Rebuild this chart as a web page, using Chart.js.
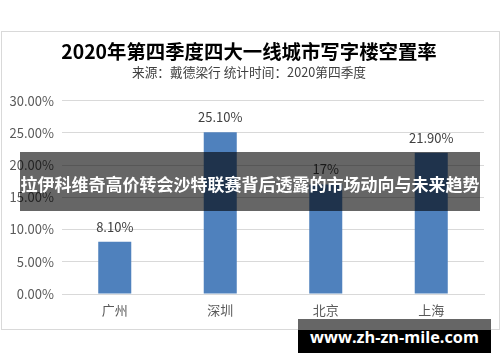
<!DOCTYPE html>
<html>
<head>
<meta charset="utf-8">
<script src="https://cdn.jsdelivr.net/npm/chart.js@4/dist/chart.umd.min.js"></script>
<style>
  html, body { margin: 0; padding: 0; background: #fff; }
  body { width: 500px; height: 362px; position: relative; overflow: hidden; font-family: "Noto Sans CJK SC", "Noto Sans", sans-serif; }
  #box { position: absolute; left: 1px; top: 31px; width: 497px; height: 297px; border: 1px solid #d9d9d9; }
  #banner { position: absolute; left: 20px; top: 152px; width: 460px; height: 59px; background: rgba(0,0,0,0.6); }
  #bannerText { position: absolute; left: 0; top: 172px; width: 500px; text-align: center; white-space: nowrap;
    color: #fff; font-weight: bold; font-size: 17px; line-height: 24px; }
  #mark { position: absolute; left: 298px; top: 319px; width: 193px; height: 34px;
    background: linear-gradient(#666 0, #666 11px, #000 11px); }
  #markText { position: absolute; left: 298px; top: 326px; width: 193px; text-align: center; white-space: nowrap;
    color: #fff; font-weight: bold; font-size: 16.3px; line-height: 22px; font-family: "Open Sans", "Noto Sans", sans-serif; }
</style>
</head>
<body>
<div id="box"><canvas id="res" width="497" height="297"></canvas></div>
<div id="banner"></div>
<div id="bannerText">拉伊科维奇高价转会沙特联赛背后透露的市场动向与未来趋势</div>
<div id="mark"></div>
<div id="markText">www.zh-zn-mile.com</div>
<script>
(function () {

    var cities = ["广州", "深圳", "北京", "上海"];
    var vacancy = [8.1, 25.1, 17, 21.9];
    var yTicks = [0, 5, 10, 15, 20, 25, 30];

    var fontFam = '"Noto Sans CJK SC", "Noto Sans", sans-serif';

    function fmt(v) {
        return Number.isInteger(v) ? v + '%' : v.toFixed(2) + '%';
    }

    // labels above each bar
    var barLabels = {
        id: 'barLabels',
        afterDatasetsDraw: function (chart) {
            var c = chart.ctx;
            var meta = chart.getDatasetMeta(0);
            c.save();
            c.font = '13px ' + fontFam;
            c.fillStyle = '#404040';
            c.textAlign = 'center';
            c.textBaseline = 'middle';
            meta.data.forEach(function (bar, i) {
                c.fillText(fmt(vacancy[i]), bar.x, bar.y - 15);
            });
            c.restore();
        }
    };

    // title + subtitle centred on the whole box, not on the padded area
    var centreTitles = {
        id: 'centreTitles',
        afterLayout: function (chart) {
            chart.boxes.forEach(function (b) {
                if (b.options && b.options.text !== undefined && b.position === 'top') {
                    b.left += 12;
                }
            });
        }
    };

    var ctx = document.getElementById("res").getContext('2d');

    var myChart = new Chart(ctx, {
        type: 'bar',
        data: {
            labels: cities,
            datasets: [{
                label: '空置率',
                data: vacancy,
                backgroundColor: '#4f81bd',
                borderWidth: 0,
                categoryPercentage: 1,
                barPercentage: 0.313
            }]
        },
        options: {
            responsive: false,
            animation: false,
            devicePixelRatio: 1,
            layout: { padding: { left: 0, right: 15, top: 0, bottom: 0 } },
            plugins: {
                legend: { display: false },
                tooltip: { enabled: false },
                title: {
                    display: true,
                    text: '2020年第四季度四大一线城市写字楼空置率',
                    color: '#000',
                    font: { family: fontFam, size: 19.4, weight: 'bold', lineHeight: 1 },
                    padding: { top: 10, bottom: 0 }
                },
                subtitle: {
                    display: true,
                    text: '来源：戴德梁行 统计时间：2020第四季度',
                    color: '#404040',
                    font: { family: fontFam, size: 12.7, lineHeight: 1.2 },
                    padding: { top: 3, bottom: 21 }
                }
            },
            scales: {
                x: {
                    grid: { display: false, drawTicks: false },
                    border: { display: true, color: '#d9d9d9' },
                    ticks: { color: '#595959', font: { family: fontFam, size: 13 }, padding: 8 },
                    afterFit: function (s) { s.height = 35; }
                },
                y: {
                    min: 0,
                    max: 30,
                    afterBuildTicks: function (s) { s.ticks = yTicks.map(function (v) { return { value: v }; }); },
                    grid: { color: '#d9d9d9', drawTicks: false },
                    border: { display: false },
                    ticks: {
                        color: '#595959',
                        font: { family: fontFam, size: 13 },
                        padding: 8,
                        callback: function (v) { return v.toFixed(2) + '%'; }
                    },
                    afterFit: function (s) { s.width = 60; }
                }
            }
        },
        plugins: [barLabels, centreTitles]
    });

})();
</script>
</body>
</html>
